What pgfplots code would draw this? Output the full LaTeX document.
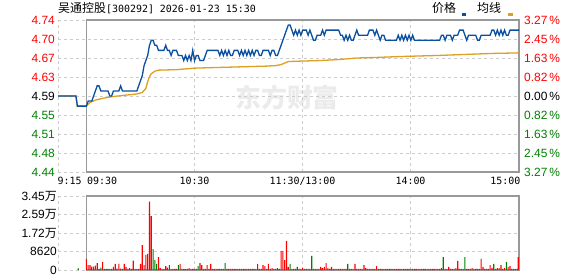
\documentclass[border=0pt]{standalone}
\usepackage{pgfplots}
\pgfplotsset{compat=1.18}
\usepackage{pgfplotstable}
\usepackage{fontspec}
\setmainfont{Liberation Sans}
\newfontfamily\cjk{Noto Sans CJK SC}
\newfontfamily\mono{DejaVu Sans Mono}
\definecolor{upred}{HTML}{FF0000}
\definecolor{dngreen}{HTML}{008000}
\definecolor{priceblue}{HTML}{0A4FA0}
\definecolor{avgorange}{HTML}{DDA020}
\definecolor{framegray}{HTML}{999999}
\definecolor{gridgray}{HTML}{CCCCCC}

\pgfplotstableread{
m p
-15.75 4.59
-5.8 4.59
-5 4.57
0 4.57
1 4.58
2 4.58
3 4.58
4 4.59
5 4.60
6 4.61
7 4.61
8 4.60
9 4.60
10 4.60
11 4.60
12 4.60
13 4.59
14 4.59
15 4.60
16 4.60
17 4.60
18 4.60
19 4.61
20 4.60
21 4.60
22 4.60
23 4.60
24 4.60
25 4.60
26 4.60
27 4.60
28 4.60
29 4.61
30 4.62
31 4.63
32 4.65
33 4.66
34 4.67
35 4.69
36 4.70
37 4.70
38 4.69
39 4.69
40 4.68
41 4.68
42 4.68
43 4.68
44 4.69
45 4.68
46 4.68
47 4.67
48 4.68
49 4.68
50 4.68
51 4.67
52 4.67
53 4.67
54 4.66
55 4.67
56 4.66
57 4.67
58 4.66
59 4.68
60 4.66
61 4.67
62 4.67
63 4.66
64 4.66
65 4.66
66 4.67
67 4.68
68 4.68
69 4.68
70 4.68
71 4.68
72 4.68
73 4.68
74 4.67
75 4.68
76 4.67
77 4.68
78 4.67
79 4.68
80 4.67
81 4.67
82 4.68
83 4.68
84 4.68
85 4.67
86 4.68
87 4.67
88 4.68
89 4.67
90 4.68
91 4.67
92 4.68
93 4.67
94 4.68
95 4.68
96 4.67
97 4.67
98 4.68
99 4.68
100 4.68
101 4.68
102 4.67
103 4.68
104 4.68
105 4.67
106 4.67
107 4.68
108 4.69
109 4.70
110 4.71
111 4.72
112 4.73
113 4.73
114 4.72
115 4.71
116 4.72
117 4.71
118 4.72
119 4.71
120 4.72
121 4.72
122 4.72
123 4.71
124 4.72
125 4.71
126 4.70
127 4.70
128 4.71
129 4.71
130 4.71
131 4.72
132 4.71
133 4.72
134 4.72
135 4.72
136 4.72
137 4.72
138 4.72
139 4.72
140 4.72
141 4.71
142 4.71
143 4.70
144 4.71
145 4.70
146 4.71
147 4.70
148 4.70
149 4.71
150 4.72
151 4.71
152 4.71
153 4.71
154 4.71
155 4.71
156 4.71
157 4.72
158 4.72
159 4.72
160 4.71
161 4.72
162 4.71
163 4.70
164 4.71
165 4.71
166 4.70
167 4.70
168 4.70
169 4.70
170 4.70
171 4.70
172 4.70
173 4.71
174 4.70
175 4.71
176 4.70
177 4.71
178 4.70
179 4.71
180 4.70
181 4.71
182 4.70
183 4.70
184 4.70
185 4.70
186 4.70
187 4.70
188 4.70
189 4.70
190 4.70
191 4.70
192 4.70
193 4.70
194 4.70
195 4.70
196 4.70
197 4.71
198 4.71
199 4.70
200 4.71
201 4.71
202 4.71
203 4.70
204 4.71
205 4.71
206 4.71
207 4.72
208 4.72
209 4.72
210 4.71
211 4.70
212 4.71
213 4.71
214 4.71
215 4.71
216 4.71
217 4.70
218 4.70
219 4.71
220 4.71
221 4.71
222 4.71
223 4.71
224 4.71
225 4.72
226 4.72
227 4.71
228 4.72
229 4.71
230 4.72
231 4.71
232 4.72
233 4.71
234 4.71
235 4.72
236 4.72
237 4.72
238 4.72
239 4.72
240 4.72
}\pricetable

\pgfplotstableread{
m p
-15.75 4.59
-5.8 4.59
-5 4.57
0 4.57
2 4.577
5 4.582
10 4.586
15 4.589
20 4.591
28 4.594
31 4.597
33 4.605
34 4.618
35 4.628
36 4.634
38 4.639
40 4.641
50 4.642
60 4.645
70 4.646
80 4.647
90 4.648
100 4.649
105 4.650
108 4.652
110 4.655
112 4.658
120 4.659
130 4.660
140 4.662
150 4.665
160 4.666
175 4.668
195 4.670
210 4.672
225 4.674
239 4.675
240 4.677
}\avgtable

\pgfplotstableread{
m v
0 5100
1 2330
2 2330
3 1550
4 1550
5 2020
6 3260
7 470
9 3730
13 470
15 1400
16 2800
17 620
18 2800
19 620
21 2800
22 1400
23 620
24 930
25 470
26 4350
27 470
28 470
29 470
30 2800
31 11650
32 2330
33 7000
34 7460
35 31860
36 25170
40 6060
41 930
42 470
44 1860
45 1090
47 470
48 470
49 470
50 470
52 2800
53 470
54 470
55 470
56 470
57 930
58 470
59 470
60 470
63 3260
64 2330
65 470
66 470
67 2330
68 470
69 2800
70 470
71 470
72 470
73 470
75 470
78 470
79 470
80 470
81 470
82 470
83 470
84 470
86 470
87 470
88 470
90 470
91 470
93 470
94 470
95 2800
96 470
97 470
98 2330
99 1860
100 470
101 2800
102 470
103 930
104 470
105 470
107 470
108 8860
109 8860
110 4660
111 13520
112 1400
114 470
115 470
116 470
118 470
119 470
120 930
121 470
123 470
124 470
126 470
127 470
128 470
129 470
130 1400
131 930
132 1400
133 3260
134 930
135 470
136 1400
137 470
138 470
139 470
140 470
142 470
143 470
144 470
146 470
147 470
148 470
149 2800
150 470
151 470
152 470
153 470
154 2330
155 930
156 470
157 470
158 470
159 470
160 470
161 1860
163 470
164 470
165 470
166 470
167 470
168 470
169 470
171 470
172 470
173 470
174 470
175 470
176 470
177 470
178 470
179 470
180 470
182 470
183 470
184 470
185 470
186 470
187 470
188 470
189 470
191 470
192 470
193 470
194 470
195 470
196 470
197 930
199 470
200 470
201 1400
202 470
203 470
204 470
205 930
206 4200
207 470
208 470
209 470
211 470
212 470
213 470
214 930
215 470
216 470
217 470
218 470
219 5130
220 1400
221 470
222 470
223 470
224 2330
225 930
227 470
228 930
229 930
230 2330
231 470
232 930
234 1400
235 1860
236 470
237 470
238 470
239 470
239.6 6060
}\volred

\pgfplotstableread{
m v
-4.5 700
8 1090
10 470
11 470
12 470
14 470
20 470
37 9790
38 4660
39 2800
43 470
46 2330
51 2330
61 470
62 1860
74 470
76 470
77 3260
85 470
89 470
92 470
106 930
113 2800
117 1400
122 470
125 6530
141 470
145 2800
162 470
170 470
181 470
190 470
198 6060
210 6060
226 2800
233 3730
}\volgreen

\begin{document}
\begin{tikzpicture}
\useasboundingbox (0,0) rectangle (578bp,276bp);
\node[text=black!8, font=\cjk\fontsize{26}{26}\selectfont\bfseries, anchor=center] at (287bp,178bp) {东方财富};

% main price axis
\begin{axis}[
  at={(58bp,104bp)}, anchor=south west,
  width=461bp, height=152bp, scale only axis,
  xmin=-15.75, xmax=240, ymin=4.44, ymax=4.74,
  axis line style={draw=none},
  major tick length=0pt,
  xtick={-15.75,60,120,180}, xticklabels={},
  ytick={4.44,4.4775,4.515,4.5525,4.59,4.6275,4.665,4.7025,4.74},
  yticklabels={\textcolor{dngreen}{4.44},\textcolor{dngreen}{4.48},\textcolor{dngreen}{4.51},\textcolor{dngreen}{4.55},\textcolor{black}{4.59},\textcolor{upred}{4.63},\textcolor{upred}{4.67},\textcolor{upred}{4.70},\textcolor{upred}{4.74}},
  yticklabel style={anchor=east, inner sep=0pt, xshift=-3bp, font=\fontsize{12}{12}\selectfont},
  grid=major,
  major grid style={gridgray, dash pattern=on 3bp off 3bp, line width=0.9bp},
  clip=false,
]
\draw[framegray, line width=1.3bp] (axis cs:0,4.44) rectangle (axis cs:240,4.74);
\addplot[avgorange, line width=1.3bp, no markers] table[x=m,y=p] {\avgtable};
\addplot[priceblue, line width=1.3bp, no markers] table[x=m,y=p] {\pricetable};
\end{axis}

% right percent labels
\begin{axis}[
  at={(58bp,104bp)}, anchor=south west,
  width=461bp, height=152bp, scale only axis,
  xmin=-15.75, xmax=240, ymin=4.44, ymax=4.74,
  hide x axis, axis y line*=right,
  y axis line style={draw=none},
  major tick length=0pt,
  ytick={4.44,4.4775,4.515,4.5525,4.59,4.6275,4.665,4.7025,4.74},
  yticklabels={\textcolor{dngreen}{3.27\,\%},\textcolor{dngreen}{2.45\,\%},\textcolor{dngreen}{1.63\,\%},\textcolor{dngreen}{0.82\,\%},\textcolor{black}{0.00\,\%},\textcolor{upred}{0.82\,\%},\textcolor{upred}{1.63\,\%},\textcolor{upred}{2.45\,\%},\textcolor{upred}{3.27\,\%}},
  yticklabel style={anchor=west, inner sep=0pt, xshift=5bp, font=\fontsize{12}{12}\selectfont},
]
\addplot[draw=none, no markers] coordinates {(0,4.59)};
\end{axis}

% volume axis
\begin{axis}[
  at={(58bp,6bp)}, anchor=south west,
  width=461bp, height=74bp, scale only axis,
  xmin=-15.75, xmax=240, ymin=0, ymax=34500,
  axis line style={draw=none},
  major tick length=0pt,
  xtick={-15.75,60,120,180}, xticklabels={},
  ytick={0,8625,17250,25875,34500},
  yticklabels={0,8620,1.72{\cjk 万},2.59{\cjk 万},3.45{\cjk 万}},
  yticklabel style={anchor=east, inner sep=0pt, xshift=-1bp, font=\fontsize{12}{12}\selectfont},
  grid=major,
  major grid style={gridgray, dash pattern=on 3bp off 3bp, line width=0.9bp},
  scaled y ticks=false,
  clip=false,
]
\draw[framegray, line width=1.3bp] (axis cs:0,0) rectangle (axis cs:240,34500);
\addplot[ybar, bar width=1.1bp, bar shift=0pt, fill=upred, draw=none] table[x=m,y=v] {\volred};
\addplot[ybar, bar width=1.1bp, bar shift=0pt, fill=dngreen, draw=none] table[x=m,y=v] {\volgreen};
\end{axis}

% title
\node[anchor=base west, inner sep=0pt] at (58bp,263bp) {{\cjk\fontsize{12}{12}\selectfont 吴通控股}{\mono\fontsize{10}{10}\selectfont [300292] 2026-01-23 15:30}};
% legend
\node[anchor=base west, inner sep=0pt] at (432bp,263bp) {\cjk\fontsize{12}{12}\selectfont 价格};
\fill[priceblue] (461.5bp,260bp) rectangle (466bp,263bp);
\node[anchor=base west, inner sep=0pt] at (477bp,263bp) {\cjk\fontsize{12}{12}\selectfont 均线};
\fill[avgorange] (508bp,260bp) rectangle (512.5bp,263bp);
% time labels
\begin{scope}[every node/.style={inner sep=0pt, font=\mono\fontsize{10}{10}\selectfont}]
\node[anchor=base west] at (57.5bp,91.5bp) {9:15};
\node[anchor=base west] at (87bp,91.5bp) {09:30};
\node[anchor=base] at (194.5bp,91.5bp) {10:30};
\node[anchor=base] at (302.5bp,91.5bp) {11:30/13:00};
\node[anchor=base] at (410.5bp,91.5bp) {14:00};
\node[anchor=base east] at (520.5bp,91.5bp) {15:00};
\end{scope}
\end{tikzpicture}
\end{document}
